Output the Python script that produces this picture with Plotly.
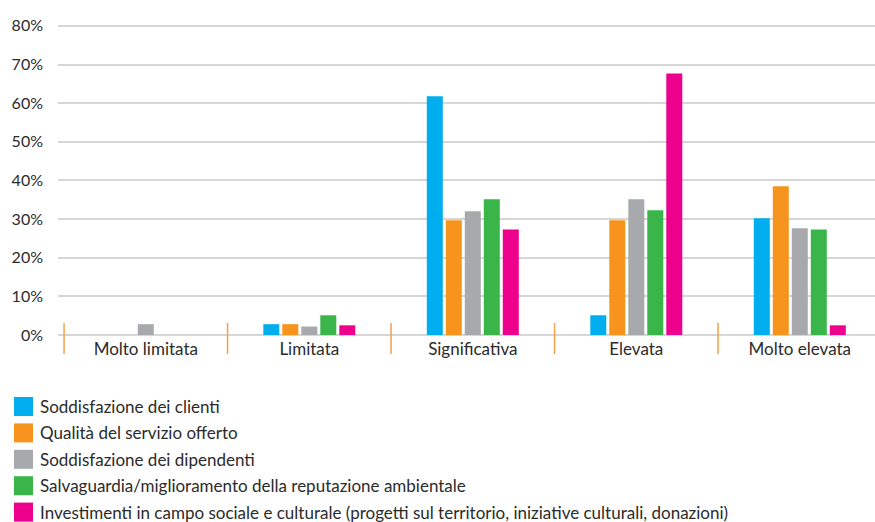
import plotly.graph_objects as go

# Categories on the x axis
categories = ["Molto limitata", "Limitata", "Significativa", "Elevata", "Molto elevata"]

# Series names and their values (percent)
series_names = [
    "Soddisfazione dei clienti",
    "Qualità del servizio offerto",
    "Soddisfazione dei dipendenti",
    "Salvaguardia/miglioramento della reputazione ambientale",
    "Investimenti in campo sociale e culturale (progetti sul territorio, iniziative culturali, donazioni)",
]
clienti = [0, 2.8, 61.8, 5.1, 30.2]
servizio = [0, 2.8, 29.7, 29.7, 38.5]
dipendenti = [2.8, 2.2, 32.0, 35.1, 27.6]
ambiente = [0, 5.1, 35.1, 32.3, 27.3]
investimenti = [0, 2.5, 27.3, 67.7, 2.5]
series_values = [clienti, servizio, dipendenti, ambiente, investimenti]

colors = ["#00AEEF", "#F7941E", "#A7A9AC", "#39B54A", "#EC008C"]

y_ticks = [0, 10, 20, 30, 40, 50, 60, 70, 80]
y_tick_labels = ["0%", "10%", "20%", "30%", "40%", "50%", "60%", "70%", "80%"]

FONT = "Lato"
TEXT_COLOR = "#2B2B2B"
W, H = 875, 522
ML, MR, MT, MB = 58, 0, 22, 187
PW, PH = W - ML - MR, H - MT - MB


def paper_x(px):
    return (px - ML) / PW


def paper_y(py):
    return (H - MB - py) / PH


fig = go.Figure()
for name, vals, col in zip(series_names, series_values, colors):
    fig.add_trace(go.Bar(
        x=categories, y=vals, name=name,
        marker=dict(color=col, line=dict(width=0)),
        showlegend=False,
    ))

# orange separators between the categories
shapes = []
for i in range(len(categories)):
    shapes.append(dict(
        type="line", xref="x", yref="paper",
        x0=i - 0.5, x1=i - 0.5,
        y0=paper_y(354), y1=paper_y(323),
        line=dict(color="#F5A04A", width=1.5),
    ))

# legend: coloured squares with labels underneath the chart
annotations = []
row0, row_step, half = 406.5, 26.4, 9.5
for i, (name, col) in enumerate(zip(series_names, colors)):
    cy = row0 + i * row_step
    shapes.append(dict(
        type="rect", xref="paper", yref="paper",
        x0=paper_x(14), x1=paper_x(33),
        y0=paper_y(cy + half), y1=paper_y(cy - half),
        fillcolor=col, line=dict(width=0),
    ))
    annotations.append(dict(
        xref="paper", yref="paper",
        x=paper_x(38), y=paper_y(cy),
        xanchor="left", yanchor="middle",
        text=name, showarrow=False,
        font=dict(family=FONT, size=17, color=TEXT_COLOR),
    ))

fig.update_layout(
    width=W, height=H,
    margin=dict(l=ML, r=MR, t=MT, b=MB),
    paper_bgcolor="white", plot_bgcolor="white",
    barmode="group",
    bargap=0.419, bargroupgap=0.158,
    font=dict(family=FONT, size=17, color=TEXT_COLOR),
    shapes=shapes,
    annotations=annotations,
    showlegend=False,
)
fig.update_xaxes(
    range=[-0.537, 4.46],
    showgrid=False, zeroline=False, showline=False,
    ticks="", ticklabelstandoff=2,
    tickfont=dict(family=FONT, size=17, color=TEXT_COLOR),
)
fig.update_yaxes(
    range=[0, 81],
    tickmode="array", tickvals=y_ticks, ticktext=y_tick_labels,
    showgrid=True, gridcolor="#D6D6D6", gridwidth=2,
    zeroline=True, zerolinecolor="#D6D6D6", zerolinewidth=2,
    showline=False, ticks="",
    ticklabelstandoff=14,
    tickfont=dict(family=FONT, size=16, color=TEXT_COLOR),
)

fig.write_html("out.html")
